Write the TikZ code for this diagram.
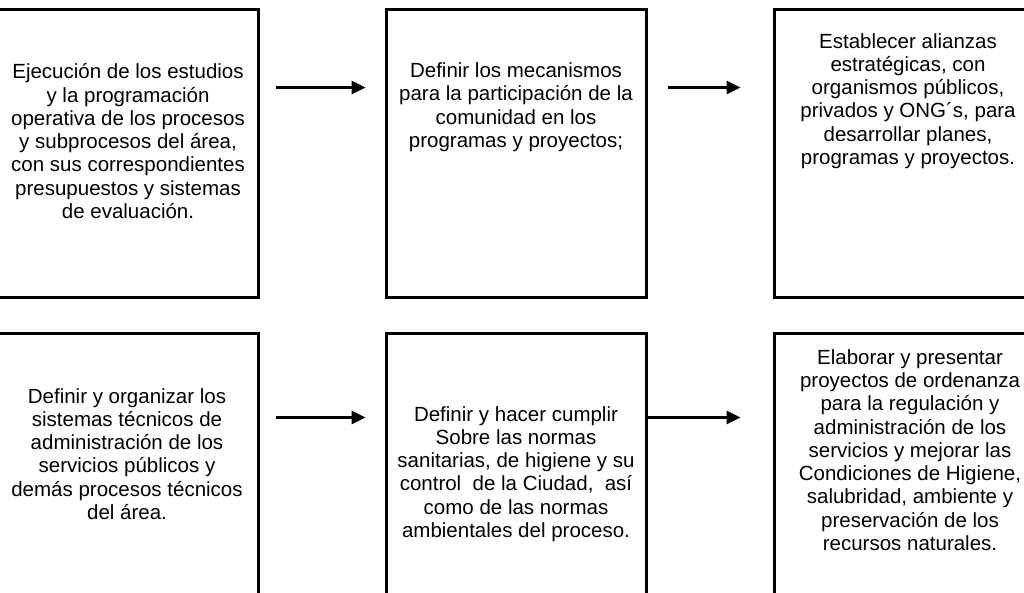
\documentclass[tikz,border=0pt]{standalone}
\usepackage{fontspec}
\setmainfont{Liberation Sans}
\usetikzlibrary{arrows.meta}
\tikzset{
 box/.style={draw,line width=3pt,minimum width=260pt,minimum height=288pt,inner sep=0pt},
 txt/.style={align=center,inner sep=0pt,anchor=base,font=\fontsize{20.5}{23.3}\selectfont},
 arr/.style={line width=3pt,-{Triangle[length=14pt,width=13pt]}}
}
\begin{document}
\begin{tikzpicture}[x=1pt,y=-1pt,line join=miter]
 \useasboundingbox (0,0) rectangle (1024,592);
 \clip (0,0) rectangle (1024,592);
 \node[box,minimum width=264pt] (b1) at (126,153) {};
 \node[box] (b2) at (516,153) {};
 \node[box,minimum width=262pt] (b3) at (905,153) {};
 \node[box,minimum width=264pt] (b4) at (126,477) {};
 \node[box] (b5) at (516,477) {};
 \node[box,minimum width=262pt] (b6) at (905,477) {};
 % texts (anchored at the last line)
 \node[txt] (t1) at ([shift={(2pt,-211pt)}]b1.north) {Ejecución de los estudios\\ y la programación\\ operativa de los procesos\\ y subprocesos del área,\\ con sus correspondientes\\ presupuestos y sistemas\\ de evaluación.};
 \node[txt] (t2) at ([yshift=-140pt]b2.north) {Definir los mecanismos\\ para la participación de la\\ comunidad en los\\ programas y proyectos;};
 \node[txt] (t3) at ([shift={(3pt,-157pt)}]b3.north) {Establecer alianzas\\ estratégicas, con\\ organismos públicos,\\ privados y ONG´s, para\\ desarrollar planes,\\ programas y proyectos.};
 \node[txt] (t4) at ([shift={(1pt,-188pt)}]b4.north) {Definir y organizar los\\ sistemas técnicos de\\ administración de los\\ servicios públicos y\\ demás procesos técnicos\\ del área.};
 \node[txt] (t5) at ([yshift=-206pt]b5.north) {Definir y hacer cumplir\\ Sobre las normas\\ sanitarias, de higiene y su\\ control\ \ de la Ciudad,\ \ así\\ como de las normas\\ ambientales del proceso.};
 \node[txt] (t6) at ([shift={(5pt,-219pt)}]b6.north) {Elaborar y presentar\\ proyectos de ordenanza\\ para la regulación y\\ administración de los\\ servicios y mejorar las\\ Condiciones de Higiene,\\ salubridad, ambiente y\\ preservación de los\\ recursos naturales.};
 % arrows
 \draw[arr] ([shift={(16pt,-80pt)}]b1.north east) -- ([shift={(-19pt,-80pt)}]b2.north west);
 \draw[arr] ([shift={(20pt,-80pt)}]b2.north east) -- ([shift={(-32pt,-80pt)}]b3.north west);
 \draw[arr] ([shift={(16pt,-86pt)}]b4.north east) -- ([shift={(-19pt,-86pt)}]b5.north west);
 \draw[arr] ([yshift=-86pt]b5.north east) -- ([shift={(-32pt,-86pt)}]b6.north west);
\end{tikzpicture}
\end{document}
